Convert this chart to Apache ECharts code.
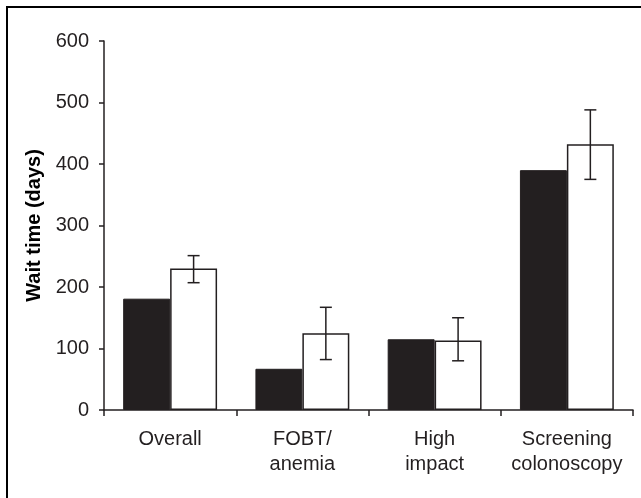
<!DOCTYPE html>
<html>
<head>
<meta charset="utf-8">
<script src="https://cdn.jsdelivr.net/npm/echarts@6/dist/echarts.min.js"></script>
<style>
html,body{margin:0;padding:0;background:#fff;}
#chart{width:641px;height:498px;}
</style>
</head>
<body>
<div id="chart"></div>
<script>
// categories and values
var categories = ['Overall', 'FOBT/\nanemia', 'High\nimpact', 'Screening\ncolonoscopy'];
var blackValues = [181, 67, 115, 390];
var whiteValues = [230, 125, 113, 432];
var errLow = [207, 82, 80, 375];
var errHigh = [251, 167, 150, 488];
var yTicks = [0, 100, 200, 300, 400, 500, 600];

var ink = '#231f20';
var font = '"Liberation Sans", Arial, sans-serif';

var chart = echarts.init(document.getElementById('chart'));

//误差线
var errData = [];
for (var i = 0; i < categories.length; i++) {
	errData.push([i, errLow[i], errHigh[i]]);
}

function renderErr(params, api) {
	var idx = api.value(0);
	var band = api.size([1, 0])[0];
	var barW = band * (1 - 0.29) / 2;
	var lo = api.coord([idx, api.value(1)]);
	var hi = api.coord([idx, api.value(2)]);
	var x = lo[0] + barW / 2;
	var cap = 6;
	var st = { stroke: ink, lineWidth: 1.5 };
	return {
		type: 'group',
		children: [
			{ type: 'line', shape: { x1: x, y1: lo[1], x2: x, y2: hi[1] }, style: st },
			{ type: 'line', shape: { x1: x - cap, y1: lo[1], x2: x + cap, y2: lo[1] }, style: st },
			{ type: 'line', shape: { x1: x - cap, y1: hi[1], x2: x + cap, y2: hi[1] }, style: st }
		]
	};
}

var option = {
	animation: false,
	backgroundColor: '#fff',
	grid: { left: 104, right: 8, top: 41, bottom: 88 },
	graphic: [{
		type: 'rect',
		shape: { x: 7, y: 7, width: 700, height: 600 },
		style: { fill: 'none', stroke: '#000', lineWidth: 2 },
		z: 100
	}],
	xAxis: {
		type: 'category',
		data: categories,
		axisLine: { lineStyle: { color: ink, width: 1.5 } },
		axisTick: { show: true, length: 6, lineStyle: { color: ink, width: 1.5 } },
		axisLabel: {
			color: ink, fontFamily: font, fontSize: 20, lineHeight: 25,
			margin: 17, interval: 0
		}
	},
	yAxis: {
		type: 'value',
		min: 0, max: 600, interval: 100,
		name: 'Wait time (days)',
		nameLocation: 'middle',
		nameGap: 60,
		nameTextStyle: { color: '#000', fontFamily: font, fontSize: 20, fontWeight: 'bold' },
		axisLine: { show: true, lineStyle: { color: ink, width: 1.5 } },
		axisTick: { show: true, length: 5, lineStyle: { color: ink, width: 1.5 } },
		splitLine: { show: false },
		axisLabel: {
			color: ink, fontFamily: font, fontSize: 20, margin: 15,
			formatter: function (v) { return yTicks.indexOf(v) >= 0 ? String(v) : ''; }
		}
	},
	series: [
		{
			type: 'bar',
			data: blackValues,
			barGap: '0%',
			barCategoryGap: '29%',
			itemStyle: { color: ink, borderColor: ink, borderWidth: 1 }
		},
		{
			type: 'bar',
			data: whiteValues,
			itemStyle: { color: '#fff', borderColor: ink, borderWidth: 1.5 }
		},
		{
			type: 'custom',
			renderItem: renderErr,
			data: errData,
			encode: { x: 0, y: [1, 2] },
			z: 10
		}
	]
};
chart.setOption(option);
</script>
</body>
</html>
